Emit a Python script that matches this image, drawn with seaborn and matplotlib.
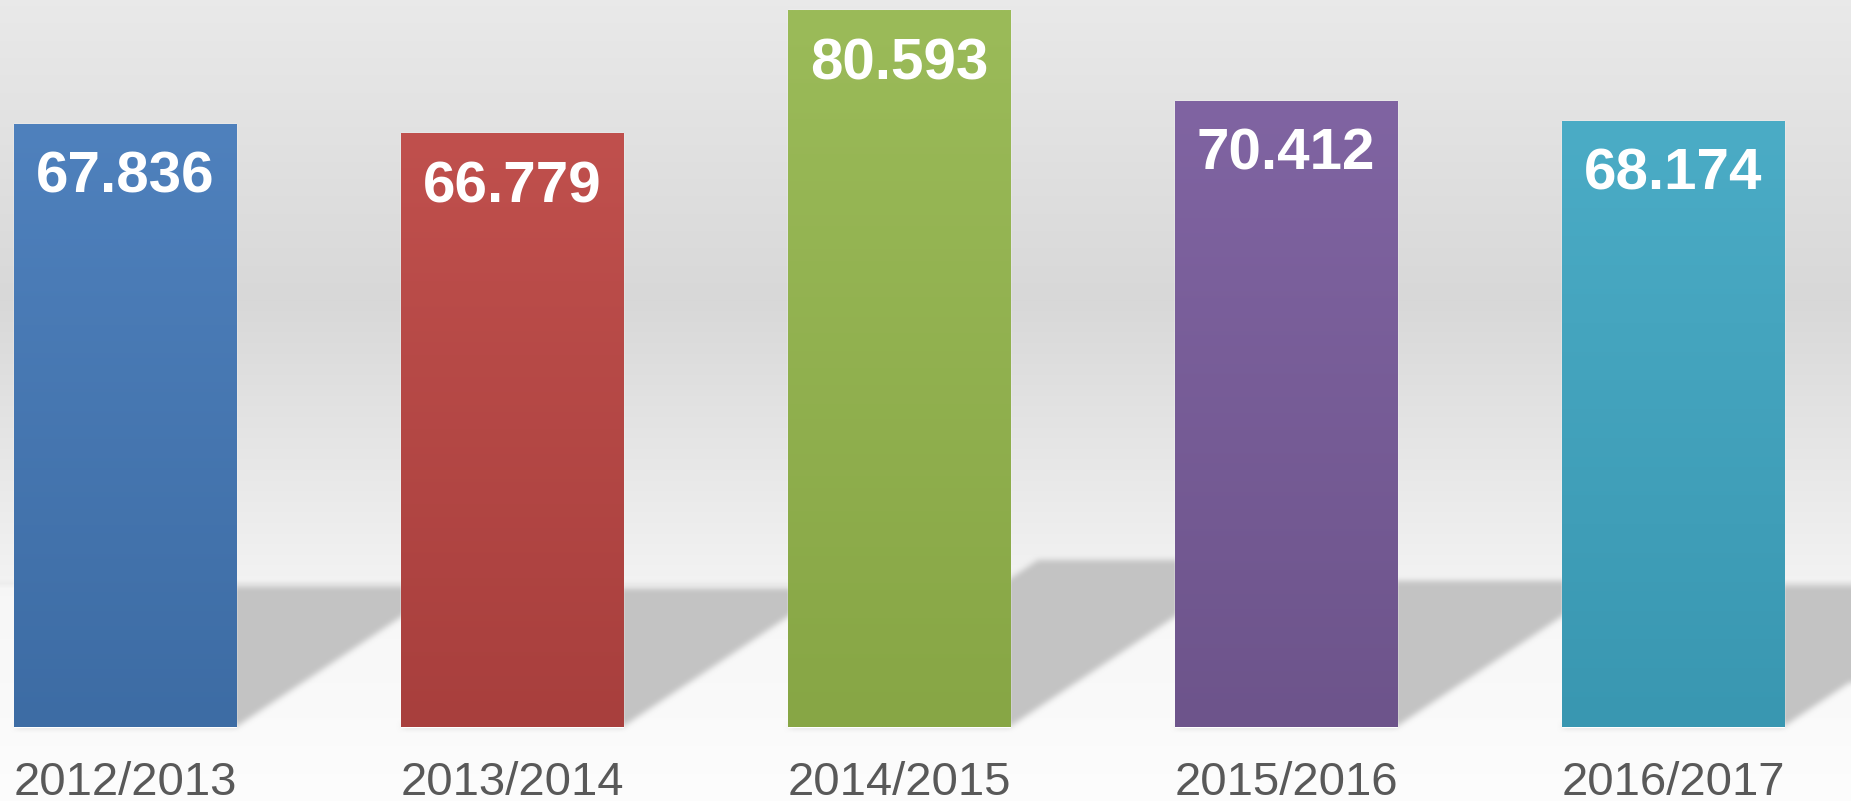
import numpy as np
import pandas as pd
import matplotlib
matplotlib.use("Agg")
import matplotlib.pyplot as plt
from matplotlib import font_manager
from matplotlib.colors import to_rgb
import seaborn as sns

# Données
seasons = ["2012/2013", "2013/2014", "2014/2015", "2015/2016", "2016/2017"]
values = [67.836, 66.779, 80.593, 70.412, 68.174]
labels = ["67.836", "66.779", "80.593", "70.412", "68.174"]

# couleurs haut / bas de chaque barre (dégradé)
top_colors = ["#4f81bd", "#c0504d", "#9bbb59", "#8064a2", "#4bacc6"]
bottom_colors = ["#3d6ca4", "#a83f3d", "#87a645", "#6d548b", "#3997b1"]

W, H, DPI = 1851, 801, 100


def vertical_gradient(c_top, c_bottom, n=256):
    t = np.linspace(0, 1, n)[:, None]
    a, b = np.array(to_rgb(c_top)), np.array(to_rgb(c_bottom))
    return (a * (1 - t) + b * t)[:, None, :]


def box_blur(img, r):
    # flou simple (séparable), appliqué deux fois
    k = np.ones(2 * r + 1) / (2 * r + 1)
    for _ in range(2):
        img = np.apply_along_axis(lambda v: np.convolve(np.pad(v, r, mode="edge"), k, "valid"), 0, img)
        img = np.apply_along_axis(lambda v: np.convolve(np.pad(v, r, mode="edge"), k, "valid"), 1, img)
    return img


def generate_plot():
    sns.set_theme(style="white")
    names = {f.name for f in font_manager.fontManager.ttflist}
    narrow = "Liberation Sans Narrow" in names
    plt.rcParams["font.family"] = ["Liberation Sans", "DejaVu Sans"]

    df = pd.DataFrame({"Saison": seasons, "Valeur": values})

    fig = plt.figure(figsize=(W / DPI, H / DPI), dpi=DPI)
    ax = fig.add_axes([0, 0, 1, 1])

    sns.barplot(data=df, x="Saison", y="Valeur", hue="Saison", palette=top_colors,
                saturation=1, width=0.574, legend=False, ax=ax, zorder=2)

    xlim = (-0.323, 4.46)
    ylim = (-8.32, 81.73)
    full = [xlim[0], xlim[1], ylim[0], ylim[1]]

    # fond : mur en dégradé + sol clair
    ys = np.arange(H)
    stops_y = [0, 300, 578, 583, 588, 700, 801]
    stops_c = [0.915, 0.847, 0.950, 0.930, 0.968, 0.978, 0.992]
    g = np.interp(ys, stops_y, stops_c)
    bg = np.repeat(g[:, None, None], 3, axis=2)
    ax.imshow(bg, extent=full, aspect="auto", zorder=0, interpolation="bilinear")

    # ombres portées (raster flouté)
    gx = np.linspace(xlim[0], xlim[1], W)[None, :]
    gy = np.linspace(ylim[1], ylim[0], H)[:, None]
    mask = np.zeros((H, W))
    for patch in ax.patches:
        x0, h, w = patch.get_x(), patch.get_height(), patch.get_width()
        hs = 0.233 * h
        dx = 0.00803 * h
        shift = dx * np.clip(gy / hs, 0, 1)
        inside = (gy >= 0) & (gy <= hs) & (gx >= x0 + shift) & (gx <= x0 + w + shift)
        mask = np.maximum(mask, inside.astype(float))
    mask = box_blur(mask, 3)
    shadow = np.zeros((H, W, 4))
    shadow[..., :3] = 0.768
    shadow[..., 3] = mask
    ax.imshow(shadow, extent=full, aspect="auto", zorder=1, interpolation="bilinear")

    # dégradé des barres + valeurs
    for i, patch in enumerate(ax.patches):
        x0, h, w = patch.get_x(), patch.get_height(), patch.get_width()
        img = ax.imshow(vertical_gradient(top_colors[i], bottom_colors[i]),
                        extent=[x0, x0 + w, 0, h], aspect="auto", zorder=2.5,
                        interpolation="bilinear")
        img.set_clip_path(patch)

        ax.annotate(labels[i], (x0 + w / 2, h), xytext=(0, -49.7),
                    textcoords="offset points", ha="center", va="baseline",
                    color="white", fontsize=42, fontweight="bold", zorder=4)

    # étiquettes de l'axe x
    tick_family = ["Liberation Sans Narrow", "Liberation Sans"] if narrow else ["Liberation Sans"]
    tick_size = 40 if narrow else 34
    for i, s in enumerate(seasons):
        ax.text(i, -7.64, s, ha="center", va="baseline", color="#595959",
                fontsize=tick_size, family=tick_family, zorder=4, clip_on=False)

    ax.set_xlim(*xlim)
    ax.set_ylim(*ylim)
    ax.set_axis_off()

    fig.savefig("out.png", dpi=DPI)


if __name__ == "__main__":
    generate_plot()
